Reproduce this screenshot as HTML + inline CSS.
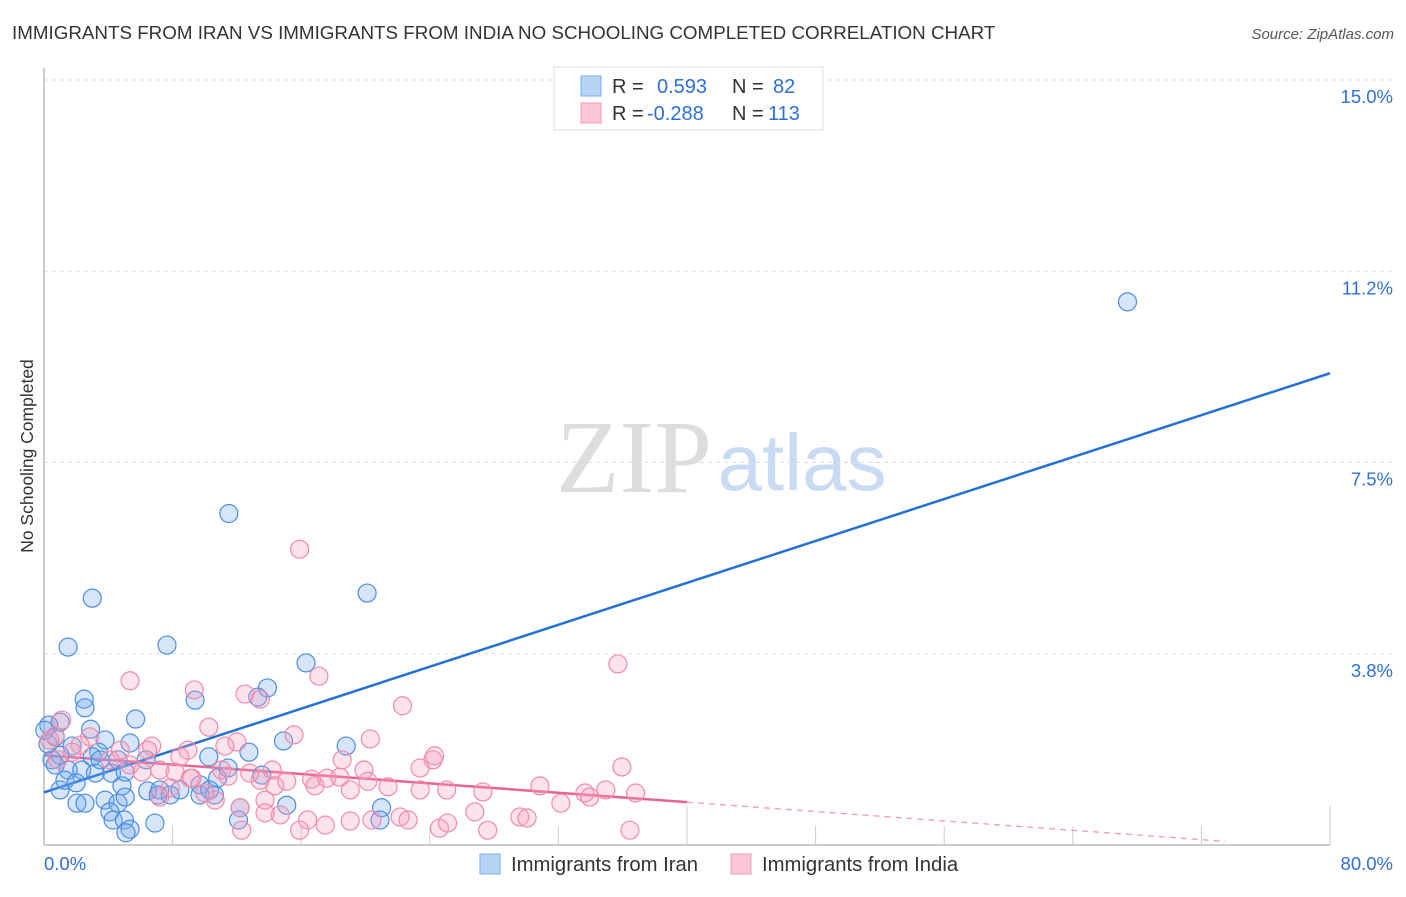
<!DOCTYPE html>
<html><head><meta charset="utf-8"><style>
body{margin:0;background:#fff;font-family:"Liberation Sans",sans-serif;}
</style></head><body>
<svg width="1406" height="892" viewBox="0 0 1406 892" xmlns="http://www.w3.org/2000/svg">
<text x="12" y="39" font-size="18.8" fill="#333">IMMIGRANTS FROM IRAN VS IMMIGRANTS FROM INDIA NO SCHOOLING COMPLETED CORRELATION CHART</text>
<text x="1394" y="39" font-size="15" fill="#555" font-style="italic" text-anchor="end">Source: ZipAtlas.com</text>
<text x="33" y="456" font-size="17.5" fill="#333" text-anchor="middle" transform="rotate(-90 33 456)">No Schooling Completed</text>
<g>
<text x="634" y="492" font-size="104" fill="#ddd" font-family="Liberation Serif,serif" text-anchor="middle">ZIP</text>
<text x="802" y="490" font-size="80" fill="#c9daf3" text-anchor="middle">atlas</text>
</g>
<g id="grid"></g>
<g id="axes"></g>
<g id="lines"></g>
<g id="pts"></g>
<g>
<rect x="554" y="67" width="269" height="63" fill="#fff" stroke="#ddd"/>
<rect x="581" y="76" width="20" height="20" fill="#b8d4f5" stroke="#7aaee8"/>
<rect x="581" y="103" width="20" height="20" fill="#fbc7d6" stroke="#f09ab5"/>
<text x="612" y="93" font-size="20" fill="#333">R = <tspan fill="#2e6fd8" x="657">0.593</tspan><tspan x="732" fill="#333">N = </tspan><tspan fill="#2e6fd8" x="773">82</tspan></text>
<text x="612" y="120" font-size="20" fill="#333">R = <tspan fill="#2e6fd8" x="647">-0.288</tspan><tspan x="732" fill="#333">N = </tspan><tspan fill="#2e6fd8" x="768">113</tspan></text>
</g>
<g>
<rect x="480" y="854" width="20" height="20" fill="#b8d4f5" stroke="#7aaee8"/>
<text x="511" y="871" font-size="20.3" fill="#333">Immigrants from Iran</text>
<rect x="731" y="854" width="20" height="20" fill="#fbc7d6" stroke="#f09ab5"/>
<text x="762" y="871" font-size="20.3" fill="#333">Immigrants from India</text>
</g>
</svg>
<script>
const iranX=[67.4,11.5,3.0,20.1,1.5,7.65,16.3,13.9,9.4,2.5,2.55,5.7,13.3,2.9,1.0,0.3,5.35,3.8,12.75,14.9,18.8,1.75,3.4,10.25,1.0,0.5,0.7,1.5,2.35,3.2,4.2,4.6,4.85,6.45,7.1,7.85,8.45,9.7,10.8,11.45,13.55,9.7,10.6,15.1,21.0,20.9,12.1,6.9,2.05,2.55,3.8,4.6,5.05,4.1,4.3,5.0,5.35,5.1,1.0,1.3,2.0,3.0,0.25,0.05,0.7,3.5,6.35,7.2,10.3,12.2,5.05];
const iranY=[10.65,6.5,4.84,4.94,3.88,3.92,3.57,3.08,2.84,2.86,2.69,2.47,2.9,2.27,2.41,2.35,2.0,2.06,1.82,2.04,1.94,1.94,1.82,1.73,1.76,1.67,1.57,1.47,1.47,1.41,1.41,1.67,1.16,1.06,0.98,0.98,1.08,1.18,1.31,1.51,1.37,0.98,0.98,0.78,0.73,0.49,0.49,0.43,0.82,0.82,0.88,0.82,0.94,0.65,0.49,0.49,0.31,0.24,1.08,1.27,1.22,1.73,1.98,2.25,2.12,1.67,1.67,1.08,1.08,0.73,1.43];
const indiaX=[15.9,35.7,5.35,9.35,12.5,13.45,17.1,22.3,10.25,12.0,15.55,20.3,18.55,19.9,24.2,24.3,23.4,35.95,6.7,6.45,8.45,8.95,11.25,4.75,2.85,2.25,0.7,1.1,0.35,0.85,1.75,4.1,5.35,6.1,7.2,8.15,9.1,11.05,11.45,12.8,13.45,14.2,14.35,15.1,16.65,16.85,17.6,18.4,19.05,20.15,21.4,23.4,25.05,27.3,30.85,33.65,33.95,34.95,36.8,32.15,26.8,29.6,30.05,20.4,22.15,22.65,19.05,17.5,16.4,14.7,13.75,12.2,10.65,10.0,9.2,12.3,15.9,24.6,25.1,27.6,36.45,13.75,7.2,7.85];
const indiaY=[5.8,3.55,3.22,3.04,2.96,2.86,3.31,2.73,2.31,2.02,2.16,2.08,1.67,1.47,1.67,1.75,1.51,1.53,1.94,1.86,1.73,1.86,1.94,1.86,2.12,1.96,2.14,2.45,2.06,1.67,1.82,1.67,1.57,1.43,1.47,1.43,1.31,1.47,1.35,1.41,1.27,1.47,1.16,1.25,1.29,1.16,1.31,1.33,1.08,1.25,1.14,1.08,1.08,1.04,1.16,1.02,0.94,1.08,1.02,0.82,0.65,0.55,0.53,0.49,0.55,0.49,0.47,0.39,0.49,0.59,0.88,0.73,0.88,1.02,1.31,0.29,0.29,0.33,0.43,0.29,0.29,0.63,0.94,1.12];
const yTicks=[3.75,7.5,11.25,15];
const yTickLabels=["3.8%","7.5%","11.2%","15.0%"];
const xTicks=[8,16,24,32,40,48,56,64,72,80];
const iranFit=[[0,1.03],[80,9.25]];
const indiaFit=[[0,1.76],[40,0.84]];
const indiaFitDash=[[40,0.84],[73.5,0.07]];

const NS="http://www.w3.org/2000/svg";
const X0=44,X1=1330,Y0=845,Y1=80;
const sx=v=>X0+(X1-X0)*v/80;
const sy=v=>Y0-(Y0-Y1)*v/15;
function mk(tag,attrs,parent){const e=document.createElementNS(NS,tag);for(const k in attrs)e.setAttribute(k,attrs[k]);document.getElementById(parent).appendChild(e);return e;}

yTicks.forEach((t,i)=>{
  const g=mk('line',{x1:X0,x2:1394,y1:sy(t),y2:sy(t),stroke:'#ddd','stroke-dasharray':'4 4'},'grid');
  
  
  const l=mk('text',{x:1393,y:sy(t)+23,'font-size':18.5,fill:'#2e6fd8','text-anchor':'end'},'grid');
  l.textContent=yTickLabels[i];
  
  
});
const ya=mk('line',{x1:X0,x2:X0,y1:68,y2:Y0,stroke:'#bbb','stroke-width':1.5},'axes');


const xa=mk('line',{x1:X0,x2:X1,y1:Y0,y2:Y0,stroke:'#bbb','stroke-width':1.5},'axes');


xTicks.forEach(t=>{
  const long=(t===40||t===80);
  const tk=mk('line',{x1:sx(t),x2:sx(t),y1:long?806:826,y2:Y0,stroke:'#ccc'},'axes');
  
  
});
const xl0=mk('text',{x:44,y:870,'font-size':18.5,fill:'#2e6fd8'},'axes');xl0.textContent='0.0%';


const xl1=mk('text',{x:1393,y:870,'font-size':18.5,fill:'#2e6fd8','text-anchor':'end'},'axes');xl1.textContent='80.0%';



iranX.forEach((x,i)=>{
  const c=mk('circle',{cx:sx(x),cy:sy(iranY[i]),r:9,fill:'rgba(120,170,235,0.3)',stroke:'#4a8ee0','stroke-width':1.2},'pts');
  
  
});
indiaX.forEach((x,i)=>{
  const c=mk('circle',{cx:sx(x),cy:sy(indiaY[i]),r:9,fill:'rgba(245,160,190,0.3)',stroke:'#f08bab','stroke-width':1.2},'pts');
  
  
});
const bl=mk('line',{x1:sx(iranFit[0][0]),y1:sy(iranFit[0][1]),x2:sx(iranFit[1][0]),y2:sy(iranFit[1][1]),stroke:'#2471d6','stroke-width':2.5},'lines');


const pl=mk('line',{x1:sx(indiaFit[0][0]),y1:sy(indiaFit[0][1]),x2:sx(indiaFit[1][0]),y2:sy(indiaFit[1][1]),stroke:'#e8648f','stroke-width':2.5},'lines');


const pd=mk('line',{x1:sx(indiaFitDash[0][0]),y1:sy(indiaFitDash[0][1]),x2:sx(indiaFitDash[1][0]),y2:sy(indiaFitDash[1][1]),stroke:'#ee9ab5','stroke-width':1.3,'stroke-dasharray':'6 5'},'lines');


</script>
</body></html>
